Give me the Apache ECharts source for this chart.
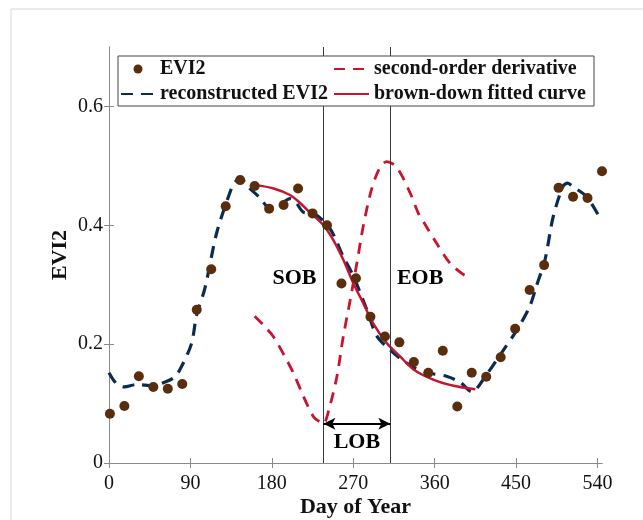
<!DOCTYPE html>
<html>
<head>
<meta charset="utf-8">
<script src="https://cdn.jsdelivr.net/npm/echarts@6/dist/echarts.min.js"></script>
<style>
  html, body { margin: 0; padding: 0; background: #fff; }
  #chart { width: 643px; height: 520px; }
</style>
</head>
<body>
<div id="chart"></div>
<script>
// observed EVI2 (day of year, value)
const evi2Obs = [
  [1, 0.083], [17, 0.096], [33, 0.146], [49, 0.128], [65, 0.125], [81, 0.133], [97, 0.258],
  [113, 0.326], [129, 0.432], [145, 0.476], [161, 0.466], [177, 0.428], [193, 0.434],
  [209, 0.462], [225, 0.42], [241, 0.4], [257, 0.302], [273, 0.311], [289, 0.246],
  [305, 0.213], [321, 0.203], [337, 0.17], [353, 0.152], [369, 0.189], [385, 0.095],
  [401, 0.152], [417, 0.145], [433, 0.178], [449, 0.226], [465, 0.291], [481, 0.333],
  [497, 0.463], [513, 0.448], [529, 0.446], [545, 0.491]
]
// reconstructed EVI2
const evi2Rec = [
  [0, 0.152], [8, 0.134], [17, 0.128], [30, 0.132], [49, 0.13], [60, 0.135], [71, 0.143],
  [78, 0.156], [91, 0.2], [97, 0.25], [106, 0.294], [119, 0.387], [132, 0.448], [138, 0.47],
  [145, 0.479], [155, 0.463], [167, 0.446], [177, 0.43], [191, 0.437], [200, 0.445],
  [206, 0.44], [215, 0.422], [226, 0.42], [244, 0.395], [259, 0.347], [270, 0.315],
  [285, 0.258], [296, 0.214], [311, 0.19], [322, 0.176], [337, 0.161], [355, 0.151],
  [373, 0.146], [388, 0.136], [401, 0.12], [417, 0.148], [436, 0.19], [451, 0.224],
  [465, 0.263], [473, 0.3], [482, 0.342], [491, 0.414], [502, 0.466], [507, 0.471],
  [513, 0.465], [528, 0.448], [541, 0.417]
]
// second-order derivative (scaled)
const secondDeriv = [
  [161, 0.247], [172, 0.23], [182, 0.212], [193, 0.183], [204, 0.151], [215, 0.112],
  [226, 0.078], [233, 0.069], [237, 0.066], [244, 0.095], [252, 0.146], [259, 0.213],
  [266, 0.269], [274, 0.336], [281, 0.398], [290, 0.459], [299, 0.496], [307, 0.507],
  [318, 0.498], [333, 0.454], [342, 0.42], [348, 0.405], [362, 0.37], [377, 0.336],
  [390, 0.319], [399, 0.311]
]
// brown-down fitted curve
const brownDown = [
  [161, 0.468], [182, 0.462], [200, 0.451], [211, 0.438], [219, 0.426], [237, 0.4],
  [248, 0.375], [259, 0.342], [270, 0.303], [281, 0.269], [292, 0.235], [307, 0.202],
  [322, 0.179], [337, 0.157], [359, 0.14], [381, 0.13], [405, 0.124]
]
// phenology markers
const sobDay = 237
const eobDay = 311
const lobLevel = 0.066
const annotations = [
  { name: 'SOB', value: [205, 0.311] },
  { name: 'EOB', value: [344, 0.311] },
  { name: 'LOB', value: [274, 0.034] }
]
const xTickValues = [0, 90, 180, 270, 360, 450, 540]
const yTickValues = [0, 0.2, 0.4, 0.6]
const xRange = [0, 545]
const yRange = [0, 0.7]

const serif = '"Liberation Serif", "Times New Roman", serif'
const boxColor = '#8a8a8a'
const navy = '#0b2c52'
const red = '#c8142c'
const brown = '#5a2e0c'

let myChart = echarts.init(document.getElementById('chart'))

function boxAxis(position, ticks, range) {
    return {
        type: 'value', position: position, min: range[0], max: range[1],
        axisLine: { show: true, lineStyle: { color: boxColor, width: 1 } },
        axisTick: { show: true, inside: true, length: 5, customValues: ticks, lineStyle: { color: boxColor } },
        axisLabel: { show: false, customValues: ticks },
        splitLine: { show: false }
    }
}

let legendText = { fontFamily: serif, fontWeight: 'bold', fontSize: 20, color: '#111' }

let xMain = boxAxis('bottom', xTickValues, xRange)
xMain.name = 'Day of Year'
xMain.nameLocation = 'middle'
xMain.nameGap = 33
xMain.nameMoveOverlap = false
xMain.nameTextStyle = { fontFamily: serif, fontWeight: 'bold', fontSize: 22, color: '#111' }
xMain.axisLabel = { show: true, customValues: xTickValues, fontFamily: serif, fontSize: 20, color: '#111', margin: 11 }

let yMain = boxAxis('left', yTickValues, yRange)
yMain.name = 'EVI2'
yMain.nameLocation = 'middle'
yMain.nameGap = 38
yMain.nameMoveOverlap = false
yMain.nameTextStyle = { fontFamily: serif, fontWeight: 'bold', fontSize: 22, color: '#111' }
yMain.axisLabel = {
    show: true, customValues: yTickValues, fontFamily: serif, fontSize: 20, color: '#111', margin: 6,
    formatter: function (v) { return v === 0 ? '0' : v.toFixed(1) }
}

let option = {
    animation: false,
    backgroundColor: '#fff',
    graphic: [
        {
            type: 'rect',
            shape: { x: 11, y: 9, width: 700, height: 600 },
            style: { fill: 'none', stroke: '#d6d6d6', lineWidth: 1 },
            silent: true
        },
        {
            type: 'rect',
            shape: { x: 118, y: 56, width: 476, height: 50 },
            style: { fill: '#fff', stroke: '#444', lineWidth: 1 },
            z: 10,
            silent: true
        }
    ],
    grid: { left: 109, top: 47, right: 41, bottom: 57, containLabel: false, outerBoundsMode: 'none' },
    legend: [
        {
            left: 120, top: 59, orient: 'vertical', padding: 0,
            itemWidth: 34, itemHeight: 9, itemGap: 5, z: 20,
            textStyle: legendText,
            data: [
                { name: 'EVI2' },
                { name: 'reconstructed EVI2', itemStyle: { opacity: 0 } }
            ]
        },
        {
            left: 333, top: 59, orient: 'vertical', padding: 0,
            itemWidth: 35, itemHeight: 9, itemGap: 5, z: 20,
            textStyle: legendText,
            data: [
                { name: 'second-order derivative', itemStyle: { opacity: 0 } },
                { name: 'brown-down fitted curve', itemStyle: { opacity: 0 } }
            ]
        }
    ],
    xAxis: [xMain, boxAxis('top', xTickValues, xRange)],
    yAxis: [yMain, boxAxis('right', yTickValues, yRange)],
    series: [
        {
            name: 'reconstructed EVI2',
            type: 'line',
            data: evi2Rec,
            symbol: 'none',
            smooth: 0.3,
            z: 3,
            itemStyle: { color: navy },
            lineStyle: { color: navy, width: 3.2, type: [12, 8] }
        },
        {
            name: 'second-order derivative',
            type: 'line',
            data: secondDeriv,
            symbol: 'none',
            smooth: 0.3,
            z: 3,
            itemStyle: { color: red },
            lineStyle: { color: red, width: 2.8, type: [11, 8] }
        },
        {
            name: 'brown-down fitted curve',
            type: 'line',
            data: brownDown,
            symbol: 'none',
            smooth: 0.3,
            z: 4,
            itemStyle: { color: red },
            lineStyle: { color: red, width: 2.5 }
        },
        {
            name: 'EVI2',
            type: 'scatter',
            data: evi2Obs,
            symbol: 'circle',
            symbolSize: 10,
            z: 5,
            itemStyle: { color: brown, opacity: 1 }
        },
        {
            // SOB / EOB lines, LOB arrow and text labels
            name: 'annotations',
            type: 'scatter',
            data: annotations,
            symbolSize: 0,
            silent: true,
            z: 6,
            itemStyle: { opacity: 1 },
            label: {
                show: true, position: 'inside', formatter: '{b}',
                fontFamily: serif, fontWeight: 'bold', fontSize: 22, color: '#000'
            },
            markLine: {
                silent: true,
                animation: false,
                symbol: 'none',
                label: { show: false },
                lineStyle: { color: '#3a3a3a', width: 1, type: 'solid', opacity: 1 },
                data: [
                    { xAxis: sobDay },
                    { xAxis: eobDay },
                    [
                        { coord: [sobDay, lobLevel], symbol: 'arrow', symbolSize: [9, 12] },
                        { coord: [eobDay, lobLevel], symbol: 'arrow', symbolSize: [9, 12], lineStyle: { color: '#000', width: 2 } }
                    ]
                ]
            }
        }
    ]
}

option && myChart.setOption(option)
window.addEventListener('resize', function () {
    myChart.resize()
})
</script>
</body>
</html>
